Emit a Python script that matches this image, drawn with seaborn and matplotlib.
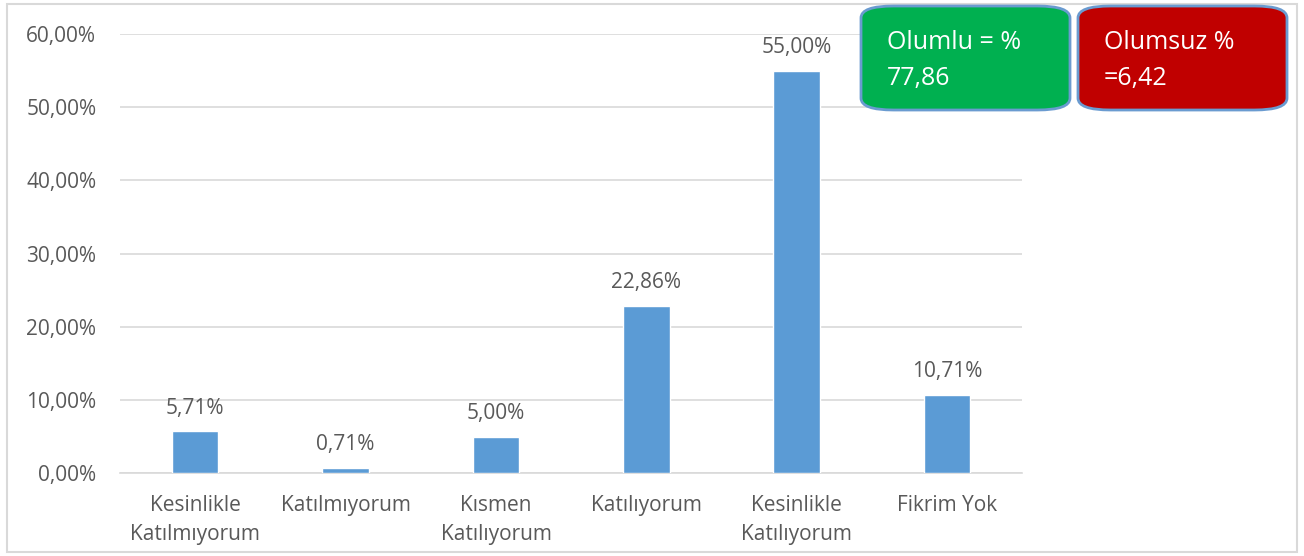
import numpy as np
import pandas as pd
import seaborn as sns
import matplotlib.pyplot as plt
from matplotlib.patches import FancyBboxPatch, Rectangle
from matplotlib.ticker import FuncFormatter

categories = ["Kesinlikle\nKatılmıyorum", "Katılmıyorum", "Kısmen\nKatılıyorum",
              "Katılıyorum", "Kesinlikle\nKatılıyorum", "Fikrim Yok"]
values = [5.71, 0.71, 5.00, 22.86, 55.00, 10.71]
yticks = [0, 10, 20, 30, 40, 50, 60]
box_texts = ["Olumlu = %\n77,86", "Olumsuz %\n=6,42"]
box_colors = ["#00B050", "#C00000"]

sns.set_theme(style="white")
plt.rcParams["font.family"] = ["Open Sans", "DejaVu Sans"]
text_col = "#595959"

df = pd.DataFrame({"cat": categories, "val": values})

fig = plt.figure(figsize=(13.04, 5.56), dpi=100)
ax = fig.add_axes([0.092, 0.149, 0.692, 0.790])

sns.barplot(data=df, x="cat", y="val", color="#5B9BD5", width=0.31,
            saturation=1, ax=ax, zorder=3)

ax.set_ylim(0, 60)
ax.set_yticks(yticks)
ax.yaxis.set_major_formatter(FuncFormatter(lambda v, p: f"{v:.2f}%".replace(".", ",")))
ax.grid(axis="y", color="#D9D9D9", linewidth=1.2, zorder=0)
ax.set_xlabel("")
ax.set_ylabel("")
for s in ["top", "right", "left"]:
    ax.spines[s].set_visible(False)
ax.spines["bottom"].set_color("#D9D9D9")
ax.spines["bottom"].set_linewidth(1.2)
ax.tick_params(axis="both", length=0, labelsize=15, colors=text_col)
ax.tick_params(axis="x", pad=16)
ax.tick_params(axis="y", pad=17)
for lab in ax.get_xticklabels():
    lab.set_linespacing(1.45)

for i, v in enumerate(values):
    ax.annotate(f"{v:.2f}%".replace(".", ","), (i, v), xytext=(0, 9),
                textcoords="offset points", ha="center", va="bottom",
                fontsize=15, color=text_col)

# outer frame
fig.add_artist(Rectangle((0.005, 0.008), 0.99, 0.984, transform=fig.transFigure,
                         fill=False, edgecolor="#D9D9D9", linewidth=1.5))

# summary boxes
box_x = [861, 1078]
for x0, txt, col in zip(box_x, box_texts, box_colors):
    w, h = 209, 104
    y0 = 556 - 110
    fig.add_artist(FancyBboxPatch((x0 / 1304, y0 / 556), w / 1304, h / 556,
                                  boxstyle="round,pad=0,rounding_size=0.025",
                                  transform=fig.transFigure, facecolor=col,
                                  edgecolor="#6A9BD0", linewidth=2,
                                  mutation_aspect=556 / 1304 * 2))
    fig.text((x0 + 26) / 1304, (556 - 30) / 556, txt, color="white",
             fontsize=18, va="top", ha="left", linespacing=1.6)

fig.savefig("out.png", dpi=100)
